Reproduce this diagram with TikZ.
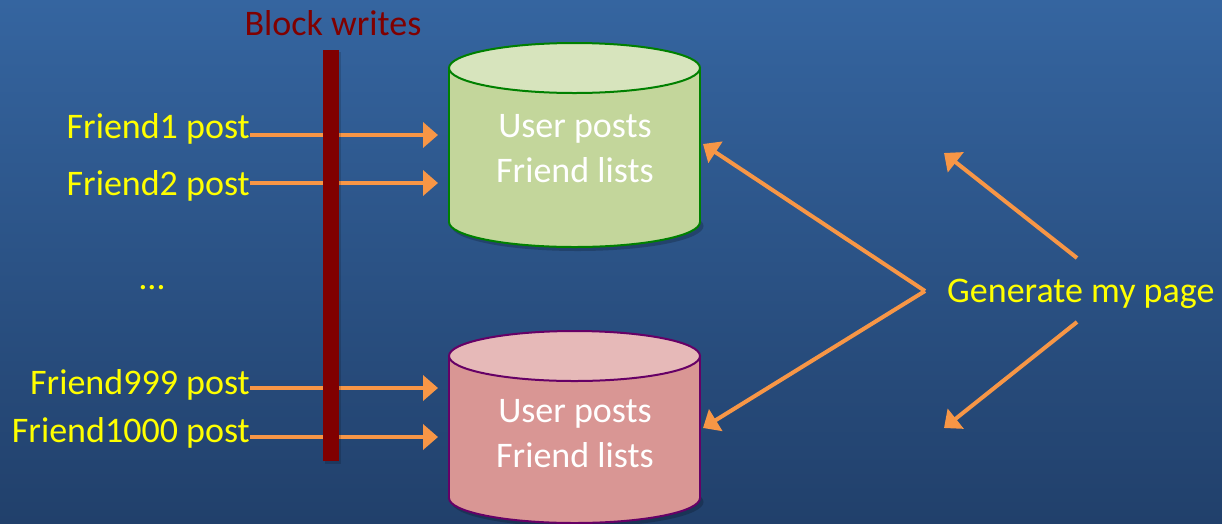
\documentclass[tikz,border=0pt]{standalone}
\usepackage{fontspec}
\setmainfont{Carlito}
\usetikzlibrary{arrows.meta}
\definecolor{bgtop}{RGB}{53,101,160}
\definecolor{bgbot}{RGB}{33,64,107}
\definecolor{barred}{RGB}{128,0,0}
\definecolor{arroworange}{RGB}{247,150,70}
\definecolor{labelyellow}{RGB}{255,255,0}
\definecolor{greenbody}{RGB}{195,214,155}
\definecolor{greentop}{RGB}{215,228,189}
\definecolor{greenedge}{RGB}{0,128,0}
\definecolor{pinkbody}{RGB}{217,150,148}
\definecolor{pinktop}{RGB}{230,185,184}
\definecolor{pinkedge}{RGB}{102,0,102}
\begin{document}
\begin{tikzpicture}[x=1pt,y=-1pt,
  bigfont/.style={font=\fontsize{36}{42}\selectfont, inner sep=0pt},
  lbl/.style={bigfont, text=labelyellow},
  dbtext/.style={bigfont, text=white, anchor=base},
  flow/.style={draw=arroworange, line width=4pt, -{Triangle[length=15pt,width=25pt]}},
]
% background
\shade[top color=bgtop, bottom color=bgbot] (0,0) rectangle (1222,523);
\useasboundingbox (0,0) rectangle (1222,523);

% --- database cylinders ---
% #1 centre x, #2 top y, #3 bottom y, #4 body, #5 top, #6 edge
\newcommand\dbcylinder[6]{%
  \fill[black, opacity=0.2] (#1+3,#3+4) ellipse [x radius=126, y radius=25];
  \fill[#4] (#1,#3) ellipse [x radius=125.5, y radius=25];
  \draw[#6, line width=2pt] (#1,#3) ellipse [x radius=125.5, y radius=25];
  \fill[#4] (#1-125.5,#2) rectangle (#1+125.5,#3);
  \draw[#6, line width=2pt] (#1-125.5,#2) -- (#1-125.5,#3) (#1+125.5,#2) -- (#1+125.5,#3);
  \filldraw[fill=#5, draw=#6, line width=2pt] (#1,#2) ellipse [x radius=125.5, y radius=25];
}
\dbcylinder{574.5}{68}{222}{greenbody}{greentop}{greenedge}
\dbcylinder{574.5}{356}{498}{pinkbody}{pinktop}{pinkedge}

\node[dbtext] (g1) at (575,137) {User posts};
\node[dbtext] (g2) at (575,182) {Friend lists};
\node[dbtext] (p1) at (575,422) {User posts};
\node[dbtext] (p2) at (575,467) {Friend lists};

% --- friend posts ---
\node[lbl, anchor=base east] (f1) at (250,138) {Friend1 post};
\node[lbl, anchor=base east] (f2) at (250,195) {Friend2 post};
\node[lbl, anchor=base] (dots) at (152,289) {…};
\node[lbl, anchor=base east] (f999) at (250,394) {Friend999 post};
\node[lbl, anchor=base east] (f1000) at (250,442) {Friend1000 post};

\coordinate (t1) at (438,135);
\coordinate (t2) at (438,183);
\coordinate (t999) at (438,388);
\coordinate (t1000) at (438,437);

\foreach \s/\t in {f1/t1, f2/t2, f999/t999, f1000/t1000}{
  \draw[flow] (\s.east |- \t) -- (\t);
}

% --- write barrier ---
\fill[black, opacity=0.15] (325,52) rectangle (341,464);
\fill[barred] (323,50) rectangle (339,461);
\node[bigfont, text=barred, anchor=base] (block) at (333,35) {Block writes};

% --- page generation ---
\node[lbl, anchor=base west] (gen) at (947,302) {Generate my page};
\coordinate (fork) at (925,291);
\coordinate (gin) at (703,144);
\coordinate (pin) at (703,428);
\draw[flow] (fork) -- (gin);
\draw[flow] (fork) -- (pin);
\coordinate (upfrom) at (1077,258);
\coordinate (upto) at (944,153);
\coordinate (downfrom) at (1077,322);
\coordinate (downto) at (944,428);
\draw[flow] (upfrom) -- (upto);
\draw[flow] (downfrom) -- (downto);
\end{tikzpicture}
\end{document}
